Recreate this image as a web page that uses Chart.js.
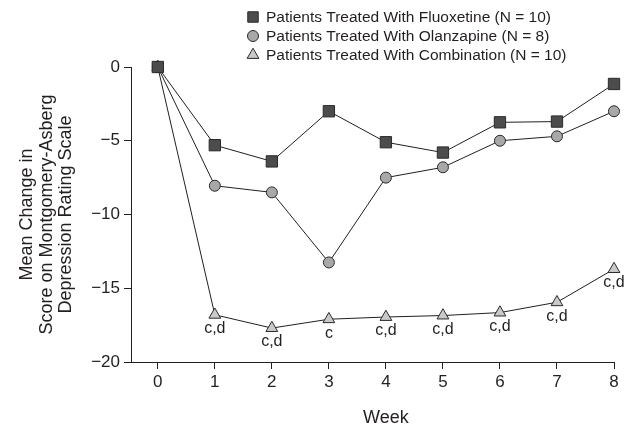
<!DOCTYPE html>
<html>
<head>
<meta charset="utf-8">
<script src="https://cdn.jsdelivr.net/npm/chart.js@4.4.1/dist/chart.umd.min.js"></script>
<style>
  html, body { margin: 0; padding: 0; background: #fff; }
  #wrap { width: 630px; height: 426px; }
</style>
</head>
<body>
<div id="wrap"><canvas id="chart" width="630" height="426"></canvas></div>
<script>
const weeks = [0, 1, 2, 3, 4, 5, 6, 7, 8];
const yTicks = [0, -5, -10, -15, -20];
const fluoxetine = [0, -5.3, -6.4, -3.0, -5.1, -5.8, -3.75, -3.7, -1.15];
const olanzapine = [0, -8.05, -8.5, -13.25, -7.5, -6.8, -5.0, -4.7, -3.0];
const combination = [0, -16.8, -17.7, -17.1, -16.95, -16.85, -16.65, -15.95, -13.7];
const combinationNotes = ["", "c,d", "c,d", "c", "c,d", "c,d", "c,d", "c,d", "c,d"];
const seriesLabels = [
  "Patients Treated With Fluoxetine (N = 10)",
  "Patients Treated With Olanzapine (N = 8)",
  "Patients Treated With Combination (N = 10)"
];

const ink = "#231f20";
const font = "'Liberation Sans', Arial, sans-serif";
const toPoints = vals => vals.map((v, i) => ({ x: weeks[i], y: v }));

// legend, "Week" title and the c,d notes
const extras = {
  id: "extras",
  afterDraw(chart) {
    const ctx = chart.ctx;
    const xs = chart.scales.x;
    ctx.save();
    ctx.fillStyle = ink;
    ctx.font = "16px " + font;
    ctx.textAlign = "center";
    ctx.textBaseline = "middle";
    const meta = chart.getDatasetMeta(2);
    meta.data.forEach((pt, i) => {
      if (combinationNotes[i]) ctx.fillText(combinationNotes[i], pt.x, pt.y + 14);
    });
    ctx.font = "18px " + font;
    ctx.fillText("Week", xs.getPixelForValue(4), 418);

    ctx.font = "15.5px " + font;
    ctx.textAlign = "left";
    chart.data.datasets.forEach((ds, i) => {
      const y = 17 + i * 19;
      ctx.fillStyle = ink;
      ctx.fillText(ds.label, 266, y + 0.5);
      ctx.fillStyle = ds.pointBackgroundColor;
      ctx.strokeStyle = ds.pointBorderColor;
      ctx.lineWidth = 1;
      Chart.helpers.drawPoint(ctx, {
        pointStyle: ds.pointStyle, radius: ds.legendRadius, rotation: 0, borderWidth: 1
      }, 253, y);
    });
    ctx.restore();
  }
};

function series(label, data, style, fill, radius, legendRadius) {
  return {
    label: label,
    data: toPoints(data),
    borderColor: ink,
    borderWidth: 1,
    pointStyle: style,
    pointRadius: radius,
    pointHoverRadius: radius,
    pointBackgroundColor: fill,
    pointBorderColor: "#2a2a2a",
    pointBorderWidth: 1,
    legendRadius: legendRadius,
    tension: 0,
    clip: false
  };
}

new Chart(document.getElementById("chart"), {
  type: "line",
  data: {
    datasets: [
      series(seriesLabels[0], fluoxetine, "rect", "#4c4c4c", 8, 7.4),
      series(seriesLabels[1], olanzapine, "circle", "#a8a8a8", 5.5, 5.5),
      series(seriesLabels[2], combination, "triangle", "#c9c9c9", 6.8, 6.8)
    ]
  },
  options: {
    responsive: false,
    animation: false,
    layout: { padding: { top: 67, right: 16, left: 0, bottom: 0 } },
    plugins: { legend: { display: false }, tooltip: { enabled: false } },
    scales: {
      x: {
        type: "linear",
        min: -0.47,
        max: 8,
        afterBuildTicks: s => { s.ticks = weeks.map(v => ({ value: v })); },
        afterFit: s => { s.height = 64; },
        grid: { drawOnChartArea: false, drawTicks: true, tickLength: 7, color: ink },
        border: { display: true, color: ink, width: 1 },
        ticks: { color: ink, font: { size: 17, family: font }, padding: 3, maxRotation: 0 }
      },
      y: {
        min: -20,
        max: 0,
        afterBuildTicks: s => { s.ticks = yTicks.map(v => ({ value: v })); },
        afterFit: s => { s.width = 131; },
        grid: { drawOnChartArea: false, drawTicks: true, tickLength: 7, color: ink },
        border: { display: true, color: ink, width: 1 },
        ticks: {
          color: ink, font: { size: 17, family: font }, padding: 4,
          callback: v => String(v).replace("-", "\u2212")
        },
        title: {
          display: true,
          text: ["Mean Change in", "Score on Montgomery-Asberg", "Depression Rating Scale"],
          color: ink,
          font: { size: 18, family: font, lineHeight: 1.1 },
          padding: { top: 17, bottom: 0 }
        }
      }
    }
  },
  plugins: [extras]
});
</script>
</body>
</html>
